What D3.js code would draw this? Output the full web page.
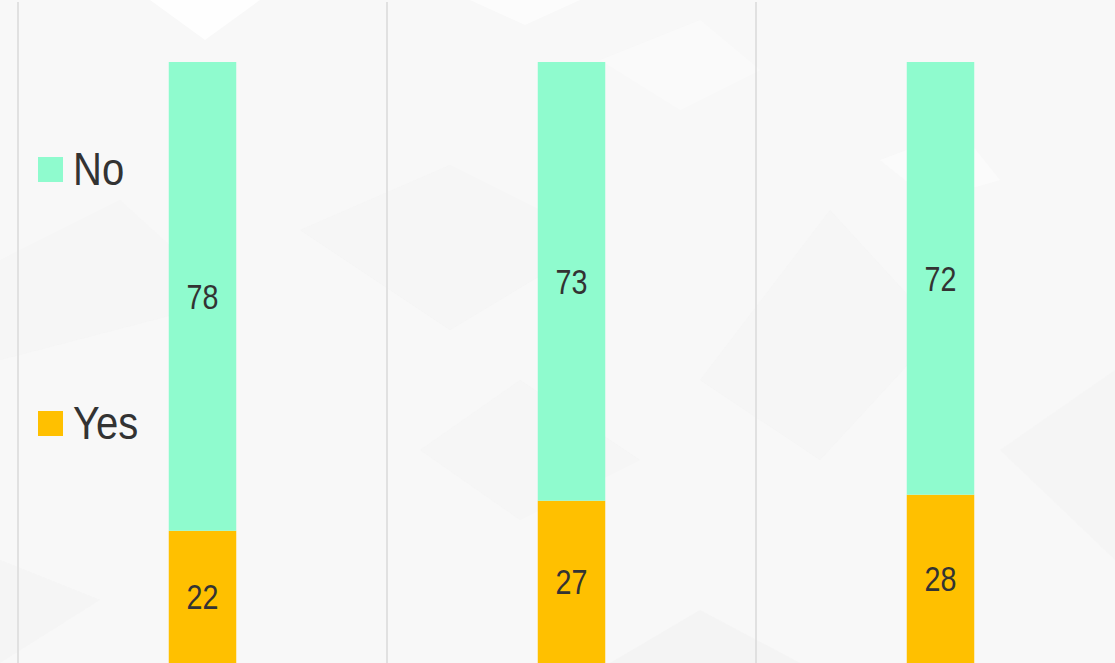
<!DOCTYPE html>
<html>
<head>
<meta charset="utf-8">
<script src="https://cdn.jsdelivr.net/npm/d3@7"></script>
<style>
  html, body { margin: 0; padding: 0; background: #f8f8f8; }
  svg { display: block; }
</style>
</head>
<body>
<svg id="chart" width="1115" height="663"></svg>
<script>
const categories = ["A", "B", "C"];
const seriesNames = ["Yes", "No"];
const yesValues = [22, 27, 28];
const noValues = [78, 73, 72];
const colors = { Yes: "#FFC000", No: "#8FFBCE" };
const legendOrder = ["No", "Yes"];

const W = 1115, H = 663;
const svg = d3.select("#chart");
const font = "'Liberation Sans', Arial, sans-serif";
const narrow = 0.82;
const legendNarrow = 0.87;

// subtle low-poly background
const bg = svg.append("g");
bg.append("rect").attr("width", W).attr("height", H).attr("fill", "#f8f8f8");
const polys = [
  {p: [[150,0],[260,0],[205,40]], f: "#ffffff", o: 0.8},
  {p: [[470,0],[580,0],[525,25]], f: "#ffffff", o: 0.6},
  {p: [[300,230],[450,165],[600,240],[450,330]], f: "#f3f3f3", o: 0.5},
  {p: [[0,260],[120,200],[230,300],[0,360]], f: "#f3f3f3", o: 0.5},
  {p: [[420,450],[520,380],[640,460],[520,520]], f: "#f3f3f3", o: 0.5},
  {p: [[700,380],[830,210],[940,330],[820,460]], f: "#f4f4f4", o: 0.5},
  {p: [[1000,450],[1115,370],[1115,560]], f: "#f3f3f3", o: 0.6},
  {p: [[610,663],[700,610],[800,663]], f: "#f2f2f2", o: 0.7},
  {p: [[0,560],[100,600],[0,663]], f: "#f3f3f3", o: 0.6},
  {p: [[880,160],[960,130],[1000,180],[930,200]], f: "#fcfcfc", o: 0.7},
  {p: [[600,60],[700,20],[760,70],[680,110]], f: "#fbfbfb", o: 0.7}
];
bg.selectAll("polygon").data(polys).join("polygon")
  .attr("points", d => d.p.map(q => q.join(",")).join(" "))
  .attr("fill", d => d.f).attr("opacity", d => d.o);

const x = d3.scaleBand().domain(categories).range([18, 18 + 369 * 3]).paddingInner(0).paddingOuter(0);
const y = d3.scaleLinear().domain([0, 100]).range([663, 62]);
const barW = 67.5;

// vertical grid lines at band boundaries
const gridX = categories.map(c => x(c)).concat([x(categories[categories.length - 1]) + x.bandwidth()]);
svg.append("g").selectAll("line").data(gridX).join("line")
  .attr("x1", d => d).attr("x2", d => d)
  .attr("y1", 2).attr("y2", H)
  .attr("stroke", "#dadada").attr("stroke-width", 1.5);

const table = categories.map((c, i) => ({ cat: c, Yes: yesValues[i], No: noValues[i] }));
const stacked = d3.stack().keys(seriesNames)(table);

const gBars = svg.append("g");
stacked.forEach(layer => {
  const key = layer.key;
  const g = gBars.append("g");
  g.selectAll("rect").data(layer).join("rect")
    .attr("x", d => x(d.data.cat) + x.bandwidth() / 2 - barW / 2)
    .attr("width", barW)
    .attr("y", d => y(d[1]))
    .attr("height", d => y(d[0]) - y(d[1]))
    .attr("fill", colors[key]);
  g.selectAll("text").data(layer).join("text")
    .attr("transform", d => `translate(${x(d.data.cat) + x.bandwidth() / 2},${(y(d[0]) + y(d[1])) / 2 + 12.5}) scale(${narrow},1)`)
    .attr("text-anchor", "middle")
    .attr("font-family", font)
    .attr("font-size", 35)
    .attr("fill", "#333333")
    .text(d => d.data[key]);
});

// legend
const legY = { No: 157, Yes: 411 };
const leg = svg.append("g");
legendOrder.forEach(k => {
  leg.append("rect").attr("x", 38).attr("y", legY[k]).attr("width", 25).attr("height", 25).attr("fill", colors[k]);
  leg.append("text").attr("transform", `translate(73,${legY[k] + 28}) scale(${legendNarrow},1)`)
    .attr("font-family", font).attr("font-size", 46).attr("fill", "#333333").text(k);
});
</script>
</body>
</html>
